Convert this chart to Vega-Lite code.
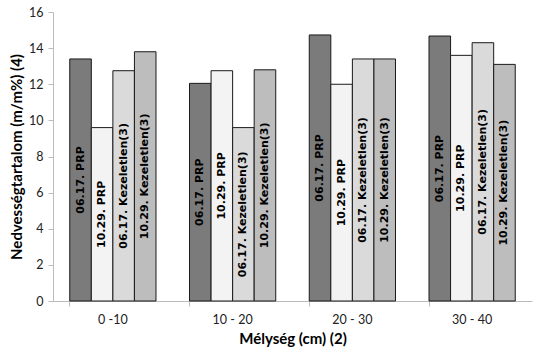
{
  "$schema": "https://vega.github.io/schema/vega-lite/v6.json",
  "autosize": "none",
  "width": 479,
  "height": 289,
  "padding": {"left": 53, "top": 12, "right": 9, "bottom": 53},
  "background": "white",
  "config": {"view": {"stroke": null}},
  "data": {"values": [
    {"depth": "0 -10", "series": "06.17. PRP", "value": 13.4},
    {"depth": "0 -10", "series": "10.29. PRP", "value": 9.6},
    {"depth": "0 -10", "series": "06.17. Kezeletlen(3)", "value": 12.75},
    {"depth": "0 -10", "series": "10.29. Kezeletlen(3)", "value": 13.8},
    {"depth": "10 - 20", "series": "06.17. PRP", "value": 12.05},
    {"depth": "10 - 20", "series": "10.29. PRP", "value": 12.75},
    {"depth": "10 - 20", "series": "06.17. Kezeletlen(3)", "value": 9.6},
    {"depth": "10 - 20", "series": "10.29. Kezeletlen(3)", "value": 12.8},
    {"depth": "20 - 30", "series": "06.17. PRP", "value": 14.73},
    {"depth": "20 - 30", "series": "10.29. PRP", "value": 12.0},
    {"depth": "20 - 30", "series": "06.17. Kezeletlen(3)", "value": 13.4},
    {"depth": "20 - 30", "series": "10.29. Kezeletlen(3)", "value": 13.4},
    {"depth": "30 - 40", "series": "06.17. PRP", "value": 14.67},
    {"depth": "30 - 40", "series": "10.29. PRP", "value": 13.6},
    {"depth": "30 - 40", "series": "06.17. Kezeletlen(3)", "value": 14.3},
    {"depth": "30 - 40", "series": "10.29. Kezeletlen(3)", "value": 13.1}
  ]},
  "transform": [{"calculate": "datum.value / 2", "as": "mid"}],
  "encoding": {
    "x": {
      "field": "depth", "type": "nominal", "sort": null,
      "scale": {"paddingInner": 0.28, "paddingOuter": 0.14},
      "axis": {
        "title": "Mélység (cm) (2)",
        "titleFont": "Lato", "titleFontSize": 15, "titleFontWeight": "bold", "titleColor": "#000",
        "titlePadding": 6,
        "labelAngle": 0, "labelFont": "Lato", "labelFontSize": 12.5, "labelColor": "#222",
        "labelPadding": 7, "tickSize": 5, "bandPosition": 0, "tickColor": "#bbb",
        "domainColor": "#bbb", "grid": false
      }
    },
    "xOffset": {
      "field": "series", "type": "nominal",
      "sort": ["06.17. PRP", "10.29. PRP", "06.17. Kezeletlen(3)", "10.29. Kezeletlen(3)"],
      "scale": {"paddingInner": 0, "paddingOuter": 0}
    }
  },
  "layer": [
    {
      "mark": {"type": "bar", "stroke": "#1a1a1a", "strokeWidth": 1},
      "encoding": {
        "y": {
          "field": "value", "type": "quantitative",
          "scale": {"domain": [0, 16]},
          "axis": {
            "title": "Nedvességtartalom (m/m%) (4)",
            "titleFont": "Lato", "titleFontSize": 15, "titleFontWeight": "bold", "titleColor": "#000",
            "titlePadding": 4,
            "values": [0, 2, 4, 6, 8, 10, 12, 14, 16], "labelOverlap": false,
            "labelFont": "Lato", "labelFontSize": 12.5, "labelColor": "#222", "labelPadding": 5,
            "tickSize": 5, "tickColor": "#bbb", "domainColor": "#bbb", "grid": false
          }
        },
        "fill": {
          "field": "series", "type": "nominal",
          "sort": ["06.17. PRP", "10.29. PRP", "06.17. Kezeletlen(3)", "10.29. Kezeletlen(3)"],
          "scale": {"range": ["#7b7b7b", "#f3f3f3", "#dadada", "#bdbdbd"]},
          "legend": null
        }
      }
    },
    {
      "mark": {"type": "text", "angle": 270, "align": "center", "baseline": "middle",
               "font": "DejaVu Sans", "fontSize": 11, "fontWeight": "bold", "color": "#000"},
      "encoding": {
        "y": {
          "field": "mid", "type": "quantitative",
          "axis": {
            "title": "Nedvességtartalom (m/m%) (4)",
            "titleFont": "Lato", "titleFontSize": 15, "titleFontWeight": "bold", "titleColor": "#000",
            "titlePadding": 4,
            "values": [0, 2, 4, 6, 8, 10, 12, 14, 16], "labelOverlap": false,
            "labelFont": "Lato", "labelFontSize": 12.5, "labelColor": "#222", "labelPadding": 5,
            "tickSize": 5, "tickColor": "#bbb", "domainColor": "#bbb", "grid": false
          }
        },
        "text": {"field": "series", "type": "nominal"}
      }
    }
  ]
}
